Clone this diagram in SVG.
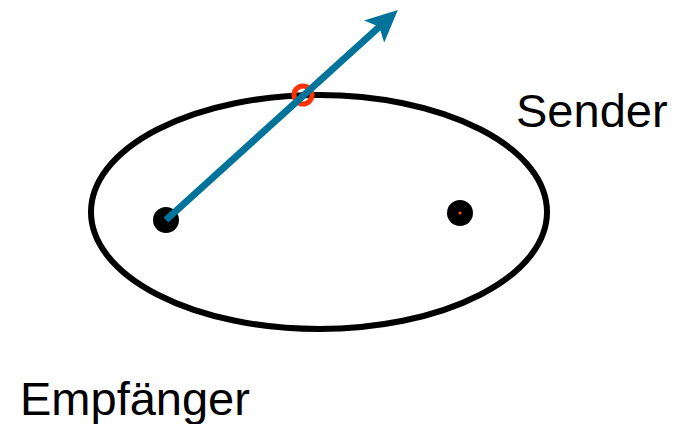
<svg xmlns="http://www.w3.org/2000/svg" width="686" height="424" viewBox="0 0 686 424">
<style>
.lbl{font-family:"Liberation Sans",Arial,sans-serif;font-size:47px;fill:#000}
.dot{fill:#000}
</style>
<defs>
<marker id="ah" markerUnits="userSpaceOnUse" markerWidth="34" markerHeight="30" refX="12" refY="15" orient="auto" viewBox="0 0 34 30">
<path d="M0,0 L32,15 L0,30 L7,15 Z" fill="#00739a"/>
</marker>
</defs>
<g id="ellipse"><ellipse cx="319" cy="212" rx="228" ry="117" fill="none" stroke="#000" stroke-width="6"/></g>
<g id="receiver"><circle class="dot" cx="166" cy="220" r="13"/></g>
<g id="sender"><circle class="dot" cx="460" cy="213" r="13"/><circle cx="460" cy="213" r="1.5" fill="#ff5a00"/></g>
<g id="intersection"><circle cx="303" cy="95" r="9" fill="none" stroke="#ff3300" stroke-width="5"/></g>
<g id="connectors"><line x1="166" y1="220" x2="383" y2="23.5" stroke="#00739a" stroke-width="7" marker-end="url(#ah)"/></g>
<text class="lbl" x="516" y="127">Sender</text>
<text class="lbl" x="20" y="415">Empfänger</text>
</svg>
